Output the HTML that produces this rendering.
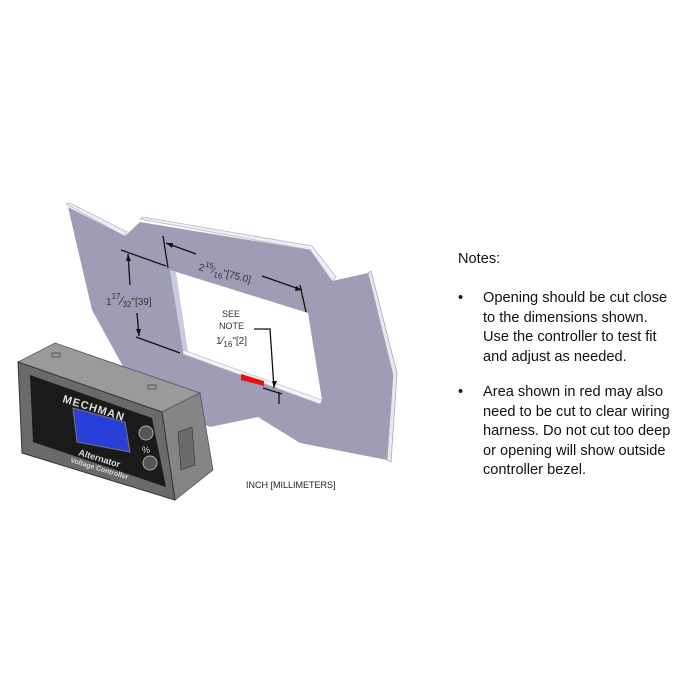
<!DOCTYPE html>
<html><head><meta charset="utf-8"><style>
body{margin:0;background:#fff;}
svg{display:block}
text{font-family:"Liberation Sans",sans-serif;}
</style></head><body>
<svg width="700" height="700" viewBox="0 0 700 700" xmlns="http://www.w3.org/2000/svg">
<rect width="700" height="700" fill="#fff"/>
<polygon points="66,204 70,203 127,232 124,236" fill="#eeeef4" stroke="#b8b8c8" stroke-width="0.8"/>
<polygon points="140,219 143,217 312,246 336,277 332,281 310,250" fill="#eeeef4" stroke="#b8b8c8" stroke-width="0.8"/>
<polygon points="368,273 371,271 397,373 391,462 387,460 393,375" fill="#e8e8f2" stroke="#a8a8bc" stroke-width="0.8"/>
<polygon points="68,207 125,236 140,222 310,250 332,281 368,273 393,375 387,460 300,443 258,417 210,427 150,400 125,370 92,310" fill="#9e9db5"/>
<polygon points="170,270 308,313 322,400 183,350" fill="#fff"/>
<polygon points="170,270 176,272 188,352 183,350" fill="#c9c9e0"/>
<polygon points="183,350 322,400 320,404 183,354" fill="#f4f4f8" stroke="#b0b0c0" stroke-width="0.6"/>
<polygon points="241,374 264,381 264,386 241,380" fill="#e81010"/>
<g stroke="#111" stroke-width="1.3" fill="none">
<line x1="163" y1="236" x2="168" y2="268"/>
<line x1="300" y1="285" x2="306" y2="312"/>
<line x1="166" y1="243" x2="196" y2="254"/>
<line x1="262" y1="276" x2="302" y2="290"/>
<line x1="121" y1="250" x2="166" y2="266"/>
<line x1="136" y1="337" x2="180" y2="353"/>
<line x1="128" y1="254" x2="130" y2="285"/>
<line x1="137" y1="313" x2="139" y2="336"/>
<polyline points="254,329 270,329 274,388"/>
<line x1="263" y1="388" x2="282" y2="394"/>
<line x1="279" y1="392" x2="279" y2="404"/>
</g>
<g fill="#111">
<polygon points="166,243 173,243 172,248"/>
<polygon points="302,290 296,286 295,291"/>
<polygon points="128,254 126,261 131,261"/>
<polygon points="139,336 136,329 141,329"/>
<polygon points="274,388 272,381 277,381"/>
</g>
<g fill="#333" font-size="10">
<text x="198" y="270" transform="rotate(14 198 270)">2<tspan font-size="8" dy="-5">15</tspan><tspan dy="5">⁄</tspan><tspan font-size="8" dy="3">16</tspan><tspan dy="-3">"[75.0]</tspan></text>
<text x="106" y="305">1<tspan font-size="8" dy="-6">17</tspan><tspan font-size="12" dy="6">⁄</tspan><tspan font-size="8" dy="2">32</tspan><tspan dy="-2">"[39]</tspan></text>
<text x="222" y="317" font-size="9">SEE</text>
<text x="219" y="329" font-size="9">NOTE</text>
<text x="216" y="344">1<tspan font-size="11">⁄</tspan><tspan font-size="8" dy="3">16</tspan><tspan dy="-3">"[2]</tspan></text>
<text x="246" y="488" font-size="9" fill="#222">INCH  [MILLIMETERS]</text>
</g>
<polygon points="55,343 200,393 162,412 18,362" fill="#9a9a9a" stroke="#555" stroke-width="0.8"/>
<polygon points="162,412 200,393 213,470 175,500" fill="#858585" stroke="#555" stroke-width="0.8"/>
<polygon points="18,362 162,412 175,500 22,453" fill="#6a6a6a" stroke="#333" stroke-width="1"/>
<polygon points="30,375 152,418 166,487 33,442" fill="#1a1a1a"/>
<polygon points="73,408 125,422 130,452 77,442" fill="#2a3fd8" stroke="#777" stroke-width="1"/>
<g fill="#999" stroke="#333" stroke-width="0.6">
<rect x="52" y="353" width="8" height="4"/><rect x="148" y="385" width="8" height="4"/>
<polygon points="178,432 192,427 195,465 181,470" fill="#6a6a6a"/>
</g>
<g fill="#ddd" font-weight="bold">
<text x="62" y="402" font-size="11" transform="rotate(17 62 402)" letter-spacing="1">MECHMAN</text>
<text x="78" y="455" font-size="9" transform="rotate(17 78 455)">Alternator</text>
<text x="70" y="462" font-size="7" transform="rotate(17 70 462)">Voltage Controller</text>
</g>
<circle cx="146" cy="433" r="7" fill="#555" stroke="#aaa"/>
<circle cx="150" cy="463" r="7" fill="#555" stroke="#aaa"/>
<text x="142" y="453" font-size="9" fill="#ddd">%</text>
<g font-size="14.6" fill="#111">
<text x="458" y="263">Notes:</text>
<text x="458" y="302">•</text>
<text x="483" y="302">Opening should be cut close</text>
<text x="483" y="322">to the dimensions shown.</text>
<text x="483" y="341">Use the controller to test fit</text>
<text x="483" y="361">and adjust as needed.</text>
<text x="458" y="396">•</text>
<text x="483" y="396">Area shown in red may also</text>
<text x="483" y="416">need to be cut to clear wiring</text>
<text x="483" y="435">harness.  Do not cut too deep</text>
<text x="483" y="455">or opening will show outside</text>
<text x="483" y="474">controller bezel.</text>
</g>
</svg>
</body></html>
